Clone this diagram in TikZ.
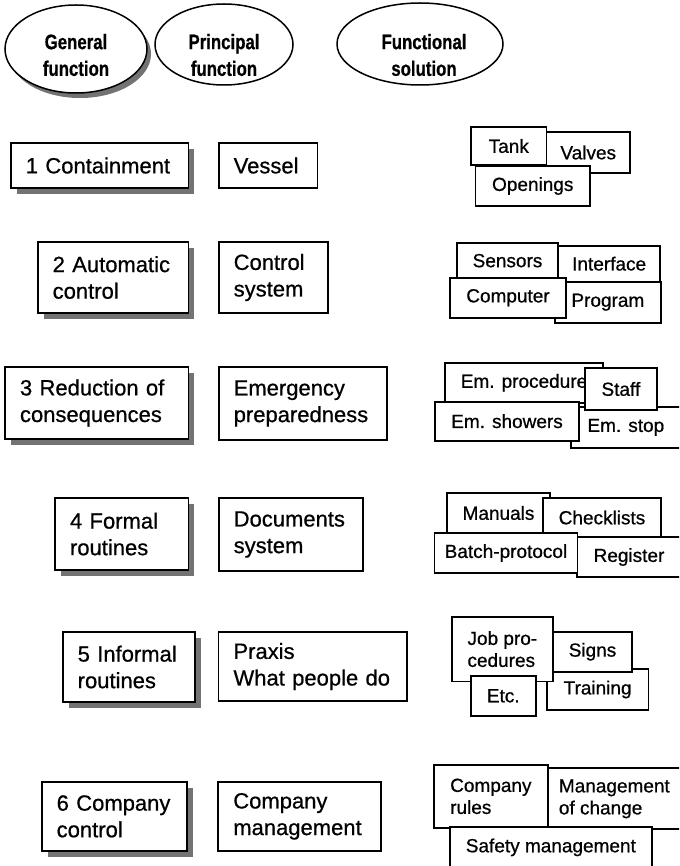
\documentclass[tikz,border=0pt]{standalone}
\usepackage{fontspec}
\setmainfont{Liberation Sans}[FakeBold=0.7]
\newfontfamily\headfont[FakeStretch=0.8, FakeBold=0.6]{Liberation Sans}
\usetikzlibrary{shapes.geometric,shadows}

\begin{document}
\begin{tikzpicture}[x=1pt, y=-1pt,
    shade/.style={drop shadow={shadow xshift=6pt, shadow yshift=-6pt, fill=black!55, opacity=1}},
    gen/.style={rectangle, draw, line width=1.8pt, fill=white, inner xsep=15pt, inner ysep=0pt, align=left, font=\fontsize{22}{26.6}\selectfont, shade},
    prin/.style={rectangle, draw, line width=1.8pt, fill=white, inner xsep=15pt, inner ysep=0pt, align=left, font=\fontsize{22}{26.6}\selectfont},
    sol/.style={rectangle, draw, line width=1.7pt, fill=white, inner sep=0pt, align=left, font=\fontsize{19}{22}\selectfont},
    head/.style={ellipse, draw, line width=1.5pt, fill=white, inner sep=0pt},
    headtext/.style={align=center, font=\headfont\bfseries\fontsize{21}{26.7}\selectfont},
    tw/.style 2 args={text width=#1pt, minimum height=#2pt},
    wh/.style 2 args={minimum width=#1pt, minimum height=#2pt}]

    \useasboundingbox (0,0) rectangle (679,866);
    \clip (0,0) rectangle (679,866);
    \fill[white] (0,0) rectangle (679,866);

    % column heads
    \node[head, wh={142}{88}, drop shadow={shadow xshift=4pt, shadow yshift=-5pt, fill=black!55, opacity=1}] (hgen) at (76,49) {};
    \node[head, wh={138}{81}] (hprin) at (224,44.5) {};
    \node[head, wh={166}{82}] (hsol) at (420,44) {};
    \node[headtext] (tgen) at (hgen.center |- 0,55) {General\\function};
    \node[headtext] (tprin) at (hprin.center |- 0,55) {Principal\\function};
    \node[headtext] (tsol) at (424,55) {Functional\\solution};

    % 1
    \node[gen, tw={147.6}{45}] (g1) at (99.6,165.5) {1 Containment};
    \node[prin, tw={68.8}{45}] (p1) at (268.1,165.5) {Vessel};
    \node[sol, wh={83.5}{41}] (valves) at (588.25,152.5) {Valves};
    \node[sol, wh={75.5}{38}] (tank) at (508.75,146) {Tank};
    \node[sol, wh={114.5}{40}] (openings) at (532.75,186) {Openings};

    % 2
    \node[gen, tw={120.7}{71}] (g2) at (113.05,277.5) {2 Automatic\\control};
    \node[prin, tw={79.3}{71}] (p2) at (273.35,277.5) {Control\\system};
    \node[sol, wh={101.7}{36}] (interface) at (609.15,263.7) {Interface};
    \node[sol, wh={101.6}{34.7}] (sensors) at (507.5,260.65) {Sensors};
    \node[sol, wh={105.7}{41}] (program) at (607.85,302.2) {Program};
    \node[sol, wh={116}{40}] (computer) at (508,297.7) {Computer};

    % 3
    \node[gen, tw={153.4}{72}] (g3) at (96.7,403) {3 Reduction of\\consequences};
    \node[prin, tw={138}{73}] (p3) at (302.7,403.5) {Emergency\\preparedness};
    \node[sol, wh={158}{40.3}] (emproc) at (524,382.85) {Em. procedure};
    \node[sol, wh={110.3}{40.7}] (emstop) at (625.85,427.35) {Em. stop};
    \node[sol, wh={71.7}{42}] (staff) at (620.85,389) {Staff};
    \node[sol, wh={144}{39}] (emshow) at (507,421.2) {Em. showers};

    % 4
    \node[gen, tw={103.4}{72}] (g4) at (121.7,534) {4 Formal\\routines};
    \node[prin, tw={114.3}{73}] (p4) at (290.85,534.5) {Documents\\system};
    \node[sol, wh={103}{40}] (manuals) at (498.5,513) {Manuals};
    \node[sol, wh={118}{39}] (checklists) at (602,517.5) {Checklists};
    \node[sol, wh={104}{40}] (register) at (629,557) {Register};
    \node[sol, wh={143.1}{40}] (batch) at (505.95,553) {Batch-protocol};

    % 5
    \node[gen, tw={102.3}{70}] (g5) at (128.85,667) {5 Informal\\routines};
    \node[prin, tw={158.5}{69}] (p5) at (312.75,666.5) {Praxis\\What people do};
    \node[sol, wh={101.8}{41}] (training) at (597.6,689.5) {Training};
    \node[sol, wh={79}{40}] (signs) at (592.5,651.7) {Signs};
    \node[sol, wh={101.3}{64.8}] (jobproc) at (502.35,649.1) {Job pro-\\cedures};
    \node[sol, wh={64.9}{40.3}] (etc) at (503.25,695.85) {Etc.};

    % 6
    \node[gen, tw={115.3}{69.3}] (g6) at (114.35,816.35) {6 Company\\control};
    \node[prin, tw={132.4}{69.3}] (p6) at (299.5,816.35) {Company\\management};
    \node[sol, wh={133.3}{61}] (change) at (614.35,798.8) {Management\\of change};
    \node[sol, wh={113.7}{62.7}] (rules) at (490.85,796.35) {Company\\rules};
    \node[sol, wh={201.7}{41.3}] (safety) at (550.85,847.35) {Safety management};
\end{tikzpicture}
\end{document}
